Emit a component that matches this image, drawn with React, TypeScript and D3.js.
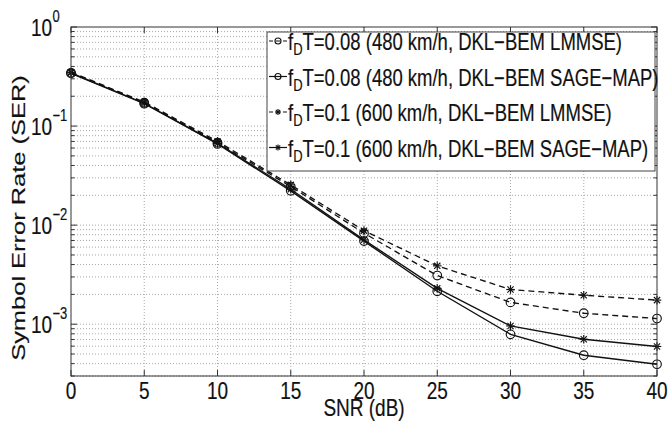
import React from 'react';
import * as d3 from 'd3';

// ---- data ----
const snr = [0, 5, 10, 15, 20, 25, 30, 35, 40];
// fDT=0.08, DKL-BEM LMMSE (dashed, circle)
const serA = [0.345, 0.172, 0.068, 0.0245, 0.0083, 0.0031, 0.00166, 0.00129, 0.00114];
// fDT=0.08, DKL-BEM SAGE-MAP (solid, circle)
const serB = [0.34, 0.168, 0.066, 0.0222, 0.0069, 0.00215, 0.00079, 0.000486, 0.000394];
// fDT=0.1, DKL-BEM LMMSE (dashed, star)
const serC = [0.35, 0.175, 0.07, 0.0255, 0.0088, 0.00388, 0.00224, 0.00196, 0.00175];
// fDT=0.1, DKL-BEM SAGE-MAP (solid, star)
const serD = [0.345, 0.17, 0.067, 0.023, 0.0071, 0.0023, 0.00096, 0.000705, 0.000596];

const legendLabels = [
  'T=0.08 (480 km/h, DKL\u2212BEM LMMSE)',
  'T=0.08 (480 km/h, DKL\u2212BEM SAGE\u2212MAP)',
  'T=0.1 (600 km/h, DKL\u2212BEM LMMSE)',
  'T=0.1 (600 km/h, DKL\u2212BEM SAGE\u2212MAP)',
];
const xTicks = [0, 5, 10, 15, 20, 25, 30, 35, 40];
const yExponents = [0, -1, -2, -3];
const xLabel = 'SNR (dB)';
const yLabel = 'Symbol Error Rate (SER)';

const series = [
  { values: serA, dashed: true, marker: 'circle' },
  { values: serB, dashed: false, marker: 'circle' },
  { values: serC, dashed: true, marker: 'star' },
  { values: serD, dashed: false, marker: 'star' },
];

const W = 671;
const H = 422;
const K = 1.27; // vertical stretch of glyphs
const FONT = "'Liberation Sans', Arial, Helvetica, sans-serif";

const x = d3.scaleLinear().domain([0, 40]).range([71, 657]);
const y = d3.scaleLog().domain([3e-4, 1]).range([376, 27]);

function Txt({ tx, ty, size = 19, anchor = 'start', rot = false, k = K, children }: any) {
  return (
    <text
      transform={`translate(${tx},${ty}) scale(1,${k})${rot ? ' rotate(-90)' : ''}`}
      textAnchor={anchor}
      fontSize={size}
      fontFamily={FONT}
      fill="#111"
      stroke="#111"
      strokeWidth={0.15}
    >
      {children}
    </text>
  );
}

function Marker({ kind, cx, cy, r }: any) {
  if (kind === 'circle') {
    return <circle cx={cx} cy={cy} r={r} fill="none" stroke="#111" strokeWidth={1.15} />;
  }
  const d = r * 0.72;
  return (
    <g stroke="#111" strokeWidth={1.15}>
      <line x1={cx - r} y1={cy} x2={cx + r} y2={cy} />
      <line x1={cx} y1={cy - r} x2={cx} y2={cy + r} />
      <line x1={cx - d} y1={cy - d} x2={cx + d} y2={cy + d} />
      <line x1={cx - d} y1={cy + d} x2={cx + d} y2={cy - d} />
    </g>
  );
}

export default function App() {
  const [x0, x1] = x.range();
  const [yb, yt] = y.range();
  const line = d3
    .line<number>()
    .x((_, i) => x(snr[i]))
    .y((v) => y(v));

  const minor: number[] = [];
  for (let e = -4; e <= -1; e++) {
    for (let m = 2; m <= 9; m++) {
      const v = m * Math.pow(10, e);
      if (v > 3e-4 && v < 1) minor.push(v);
    }
  }
  const majors = yExponents.map((e) => Math.pow(10, e));

  const lgX0 = 267, lgX1 = 655, lgY0 = 32, lgY1 = 171;
  const rowBase = [50, 85.5, 121, 156.5];

  return (
    <svg width={W} height={H} style={{ position: 'absolute', left: 0, top: 0, background: '#fff' }}>
      <rect x={0} y={0} width={W} height={H} fill="#fff" />
      {/* grid */}
      <g stroke="#a8a8a8" strokeWidth={1} strokeDasharray="1 2">
        {xTicks.slice(1, -1).map((t) => (
          <line key={'gx' + t} x1={x(t)} x2={x(t)} y1={yt} y2={yb} />
        ))}
        {majors.slice(1).concat(minor).map((v, i) => (
          <line key={'gy' + i} x1={x0} x2={x1} y1={y(v)} y2={y(v)} />
        ))}
      </g>
      {/* ticks */}
      <g stroke="#333" strokeWidth={1}>
        {xTicks.map((t) => (
          <g key={'tx' + t}>
            <line x1={x(t)} x2={x(t)} y1={yb} y2={yb - 6} />
            <line x1={x(t)} x2={x(t)} y1={yt} y2={yt + 6} />
          </g>
        ))}
        {majors.map((v, i) => (
          <g key={'ty' + i}>
            <line x1={x0} x2={x0 + 6} y1={y(v)} y2={y(v)} />
            <line x1={x1} x2={x1 - 6} y1={y(v)} y2={y(v)} />
          </g>
        ))}
        {minor.map((v, i) => (
          <g key={'tm' + i}>
            <line x1={x0} x2={x0 + 3.5} y1={y(v)} y2={y(v)} />
            <line x1={x1} x2={x1 - 3.5} y1={y(v)} y2={y(v)} />
          </g>
        ))}
      </g>
      {/* series */}
      {series.map((s, si) => (
        <g key={'s' + si}>
          <path
            d={line(s.values) || ''}
            fill="none"
            stroke="#111"
            strokeWidth={1.35}
            strokeDasharray={s.dashed ? '6 4' : undefined}
          />
          {s.values.map((v, i) => (
            <Marker key={i} kind={s.marker} cx={x(snr[i])} cy={y(v)} r={4.3} />
          ))}
        </g>
      ))}
      {/* frame */}
      <rect x={x0} y={yt} width={x1 - x0} height={yb - yt} fill="none" stroke="#333" strokeWidth={1} />
      {/* tick labels */}
      {xTicks.map((t) => (
        <Txt key={'lx' + t} tx={x(t)} ty={399} anchor="middle">
          {String(t)}
        </Txt>
      ))}
      {yExponents.map((e) => {
        const yy = y(Math.pow(10, e));
        return (
          <g key={'ly' + e}>
            <Txt tx={31} ty={yy + 8.6}>10</Txt>
            <Txt tx={52.5} ty={yy - 5} size={13}>
              {e === 0 ? '0' : '\u2212' + String(-e)}
            </Txt>
          </g>
        );
      })}
      {/* axis labels */}
      <Txt tx={(x0 + x1) / 2} ty={416} anchor="middle">
        {xLabel}
      </Txt>
      <Txt tx={25} ty={218} anchor="middle" rot k={1.34}>
        {yLabel}
      </Txt>
      {/* legend */}
      <rect x={lgX0} y={lgY0} width={lgX1 - lgX0} height={lgY1 - lgY0} fill="#fff" stroke="#444" strokeWidth={1} />
      {series.map((s, i) => {
        const base = rowBase[i];
        const cy = base - 9;
        return (
          <g key={'lg' + i}>
            <line
              x1={269}
              x2={287}
              y1={cy}
              y2={cy}
              stroke="#111"
              strokeWidth={1.2}
              strokeDasharray={s.dashed ? '4 3' : undefined}
            />
            <Marker kind={s.marker} cx={278} cy={cy} r={3} />
            <Txt tx={288} ty={base} size={18.5}>
              <tspan>f</tspan>
              <tspan fontSize={13} dy={4}>D</tspan>
              <tspan dy={-4}>{legendLabels[i]}</tspan>
            </Txt>
          </g>
        );
      })}
    </svg>
  );
}
